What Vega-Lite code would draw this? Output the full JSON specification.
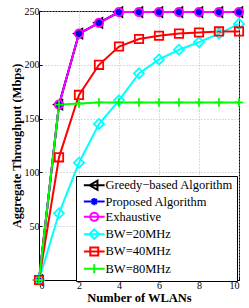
{
  "$schema": "https://vega.github.io/schema/vega-lite/v6.json",
  "width": 200,
  "height": 269,
  "autosize": {"type": "none"},
  "padding": {"left": 39, "top": 11, "right": 10, "bottom": 28},
  "background": "white",
  "config": {
    "font": "serif",
    "view": {"stroke": "black", "strokeWidth": 1},
    "axis": {
      "labelFont": "serif",
      "labelFontSize": 10,
      "labelColor": "black",
      "titleFont": "serif",
      "titleFontSize": 12.5,
      "titleFontWeight": "bold",
      "titleColor": "black",
      "domainColor": "black",
      "tickColor": "black",
      "tickSize": -3,
      "gridColor": "#b8b8b8",
      "gridDash": [1, 2],
      "gridWidth": 1
    },
    "legend": {
      "labelFont": "serif",
      "labelFontSize": 12.5,
      "labelColor": "black"
    }
  },
  "data": {
    "values": [
      {"n": 0, "s": "Greedy−based Algorithm", "v": 0},
      {"n": 1, "s": "Greedy−based Algorithm", "v": 163},
      {"n": 2, "s": "Greedy−based Algorithm", "v": 229},
      {"n": 3, "s": "Greedy−based Algorithm", "v": 239},
      {"n": 4, "s": "Greedy−based Algorithm", "v": 249},
      {"n": 5, "s": "Greedy−based Algorithm", "v": 249},
      {"n": 6, "s": "Greedy−based Algorithm", "v": 249},
      {"n": 7, "s": "Greedy−based Algorithm", "v": 249},
      {"n": 8, "s": "Greedy−based Algorithm", "v": 249},
      {"n": 9, "s": "Greedy−based Algorithm", "v": 249},
      {"n": 10, "s": "Greedy−based Algorithm", "v": 249},
      {"n": 0, "s": "Proposed Algorithm", "v": 0},
      {"n": 1, "s": "Proposed Algorithm", "v": 163},
      {"n": 2, "s": "Proposed Algorithm", "v": 229},
      {"n": 3, "s": "Proposed Algorithm", "v": 239},
      {"n": 4, "s": "Proposed Algorithm", "v": 249},
      {"n": 5, "s": "Proposed Algorithm", "v": 249},
      {"n": 6, "s": "Proposed Algorithm", "v": 249},
      {"n": 7, "s": "Proposed Algorithm", "v": 249},
      {"n": 8, "s": "Proposed Algorithm", "v": 249},
      {"n": 9, "s": "Proposed Algorithm", "v": 249},
      {"n": 10, "s": "Proposed Algorithm", "v": 249},
      {"n": 0, "s": "Exhaustive", "v": 0},
      {"n": 1, "s": "Exhaustive", "v": 163},
      {"n": 2, "s": "Exhaustive", "v": 229},
      {"n": 3, "s": "Exhaustive", "v": 239},
      {"n": 4, "s": "Exhaustive", "v": 249},
      {"n": 5, "s": "Exhaustive", "v": 249},
      {"n": 6, "s": "Exhaustive", "v": 249},
      {"n": 7, "s": "Exhaustive", "v": 249},
      {"n": 8, "s": "Exhaustive", "v": 249},
      {"n": 9, "s": "Exhaustive", "v": 249},
      {"n": 10, "s": "Exhaustive", "v": 249},
      {"n": 0, "s": "BW=20MHz", "v": 0},
      {"n": 1, "s": "BW=20MHz", "v": 62},
      {"n": 2, "s": "BW=20MHz", "v": 109},
      {"n": 3, "s": "BW=20MHz", "v": 145},
      {"n": 4, "s": "BW=20MHz", "v": 167},
      {"n": 5, "s": "BW=20MHz", "v": 192},
      {"n": 6, "s": "BW=20MHz", "v": 205},
      {"n": 7, "s": "BW=20MHz", "v": 214},
      {"n": 8, "s": "BW=20MHz", "v": 221},
      {"n": 9, "s": "BW=20MHz", "v": 229},
      {"n": 10, "s": "BW=20MHz", "v": 238},
      {"n": 0, "s": "BW=40MHz", "v": 0},
      {"n": 1, "s": "BW=40MHz", "v": 114},
      {"n": 2, "s": "BW=40MHz", "v": 172},
      {"n": 3, "s": "BW=40MHz", "v": 200},
      {"n": 4, "s": "BW=40MHz", "v": 217},
      {"n": 5, "s": "BW=40MHz", "v": 224},
      {"n": 6, "s": "BW=40MHz", "v": 227},
      {"n": 7, "s": "BW=40MHz", "v": 229},
      {"n": 8, "s": "BW=40MHz", "v": 230},
      {"n": 9, "s": "BW=40MHz", "v": 231},
      {"n": 10, "s": "BW=40MHz", "v": 231},
      {"n": 0, "s": "BW=80MHz", "v": 0},
      {"n": 1, "s": "BW=80MHz", "v": 163},
      {"n": 2, "s": "BW=80MHz", "v": 164},
      {"n": 3, "s": "BW=80MHz", "v": 165},
      {"n": 4, "s": "BW=80MHz", "v": 165},
      {"n": 5, "s": "BW=80MHz", "v": 165},
      {"n": 6, "s": "BW=80MHz", "v": 165},
      {"n": 7, "s": "BW=80MHz", "v": 165},
      {"n": 8, "s": "BW=80MHz", "v": 165},
      {"n": 9, "s": "BW=80MHz", "v": 165},
      {"n": 10, "s": "BW=80MHz", "v": 165}
    ]
  },
  "encoding": {
    "x": {
      "field": "n",
      "type": "quantitative",
      "scale": {"domain": [0, 10], "nice": false},
      "axis": {"values": [0, 2, 4, 6, 8, 10], "title": "Number of WLANs", "labelPadding": 3, "titlePadding": 1}
    },
    "y": {
      "field": "v",
      "type": "quantitative",
      "scale": {"domain": [0, 250], "nice": false},
      "axis": {"values": [50, 100, 150, 200, 250], "gridValues": [0, 50, 100, 150, 200, 250], "title": "Aggregate Throughput (Mbps)", "labelPadding": 3, "titlePadding": 1}
    },
    "color": {
      "field": "s",
      "type": "nominal",
      "scale": {
        "domain": ["Greedy−based Algorithm", "Proposed Algorithm", "Exhaustive", "BW=20MHz", "BW=40MHz", "BW=80MHz"],
        "range": ["#000000", "#0000ff", "#ff00ff", "#00ffff", "#ff0000", "#00ff00"]
      },
      "legend": {
        "title": null,
        "orient": "none",
        "legendX": 37,
        "legendY": 165,
        "strokeColor": "black",
        "fillColor": "white",
        "padding": 3,
        "symbolOffset": 9,
        "labelOffset": 5,
        "rowPadding": -0.7,
        "symbolSize": 64,
        "symbolStrokeWidth": 2,
        "symbolFillColor": "transparent"
      }
    }
  },
  "layer": [
    {"mark": {"type": "line", "strokeWidth": 2}},
    {
      "transform": [{"filter": {"field": "s", "equal": "Greedy−based Algorithm"}}],
      "mark": {"type": "point", "filled": false, "strokeWidth": 1.8, "size": 70, "opacity": 1, "shape": "M-1.2,0L0.8,-1.15L0.8,1.15Z"}
    },
    {
      "transform": [{"filter": {"field": "s", "equal": "Proposed Algorithm"}}],
      "mark": {"type": "point", "filled": false, "strokeWidth": 1.8, "size": 70, "opacity": 1, "shape": "M-0.75,0L0.75,0M0,-0.75L0,0.75M-0.55,-0.55L0.55,0.55M-0.55,0.55L0.55,-0.55"}
    },
    {
      "transform": [{"filter": {"field": "s", "equal": "Exhaustive"}}],
      "mark": {"type": "point", "filled": false, "strokeWidth": 1.8, "size": 70, "opacity": 1, "shape": "circle"}
    },
    {
      "transform": [{"filter": {"field": "s", "equal": "BW=20MHz"}}],
      "mark": {"type": "point", "filled": false, "strokeWidth": 1.8, "size": 70, "opacity": 1, "shape": "M-1.2,0L0,-1.2L1.2,0L0,1.2Z"}
    },
    {
      "transform": [{"filter": {"field": "s", "equal": "BW=40MHz"}}],
      "mark": {"type": "point", "filled": false, "strokeWidth": 1.8, "size": 70, "opacity": 1, "shape": "square"}
    },
    {
      "transform": [{"filter": {"field": "s", "equal": "BW=80MHz"}}],
      "mark": {"type": "point", "filled": false, "strokeWidth": 1.8, "size": 70, "opacity": 1, "shape": "M-1,0L1,0M0,-1L0,1"}
    },
    {
      "transform": [{"filter": {"field": "n", "equal": -1}}],
      "mark": {"type": "point", "filled": false, "strokeWidth": 2, "opacity": 1},
      "encoding": {
        "shape": {
          "field": "s",
          "type": "nominal",
          "scale": {
            "domain": ["Greedy−based Algorithm", "Proposed Algorithm", "Exhaustive", "BW=20MHz", "BW=40MHz", "BW=80MHz"],
            "range": ["M-2.6,0L2.6,0M-1.2,0L0.8,-1.15L0.8,1.15Z", "M-2.6,0L2.6,0M-0.9,0L0.9,0M0,-0.9L0,0.9M-0.65,-0.65L0.65,0.65M-0.65,0.65L0.65,-0.65", "M-2.6,0L2.6,0M-1,0A1,1,0,1,0,1,0A1,1,0,1,0,-1,0", "M-2.6,0L2.6,0M-1.2,0L0,-1.2L1.2,0L0,1.2Z", "M-2.6,0L2.6,0M-1,-1L1,-1L1,1L-1,1Z", "M-2.6,0L2.6,0M0,-1.1L0,1.1"]
          },
          "legend": {"title": null}
        }
      }
    },
    {
      "data": {"values": [{}]},
      "mark": {"type": "rule", "color": "#8c8c8c", "strokeWidth": 2},
      "encoding": {"x": {"datum": 10}, "y": null, "color": null}
    }
  ]
}
